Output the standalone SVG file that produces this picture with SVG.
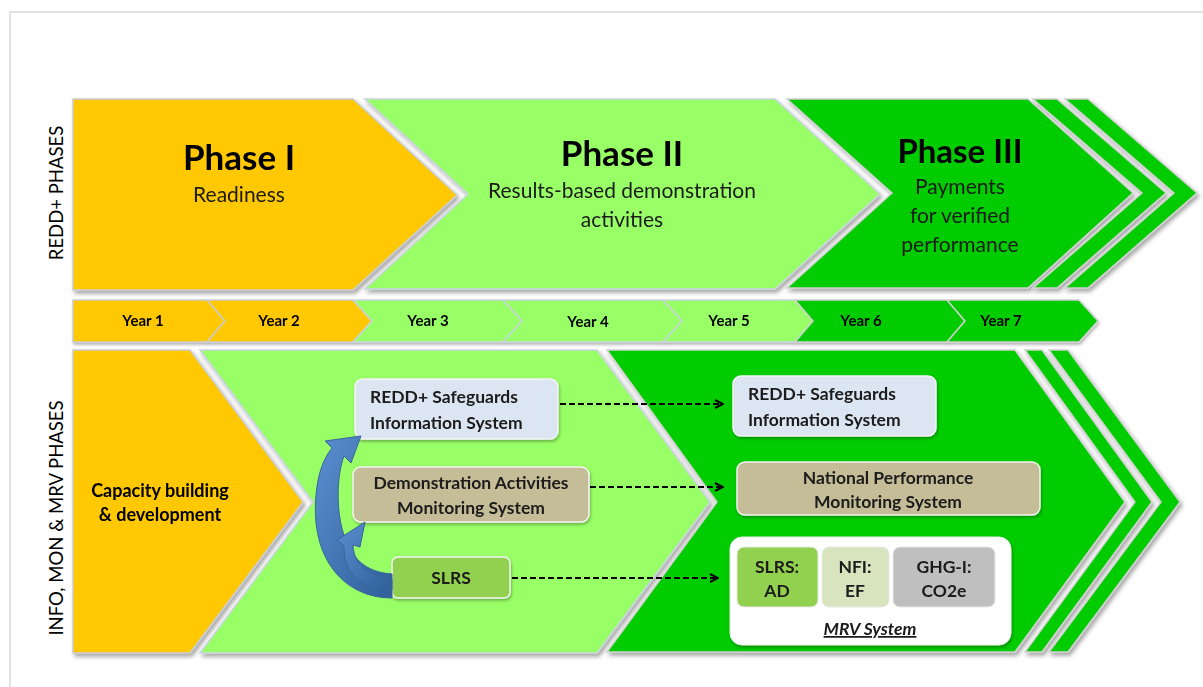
<svg xmlns="http://www.w3.org/2000/svg" width="1203" height="687" viewBox="0 0 1203 687">
<defs>
<filter id="sh" x="-10%" y="-10%" width="125%" height="130%">
<feDropShadow dx="2" dy="3" stdDeviation="2" flood-color="#000" flood-opacity="0.35"/>
</filter>
<filter id="sh2" x="-10%" y="-20%" width="125%" height="150%">
<feDropShadow dx="1" dy="2" stdDeviation="1.5" flood-color="#000" flood-opacity="0.3"/>
</filter>
<linearGradient id="blue" x1="0" y1="0" x2="1" y2="1">
<stop offset="0" stop-color="#5b8fd0"/>
<stop offset="1" stop-color="#2f5f9a"/>
</linearGradient>
<marker id="ah" viewBox="0 0 10 10" refX="9" refY="5" markerWidth="10" markerHeight="10" markerUnits="userSpaceOnUse" orient="auto">
<path d="M1,1 L9,5 L1,9" fill="none" stroke="#000" stroke-width="2"/>
</marker>
</defs>
<style>
.yel{fill:#FFC800;stroke:#c9ccd2;stroke-width:1.5}
.lg{fill:#99FF66;stroke:#c9d3e0;stroke-width:1.5}
.dg{fill:#00CC00;stroke:#d0d0d0;stroke-width:1.5}
.t{font-family:Lato,"Liberation Sans",sans-serif;fill:#000;text-anchor:middle}
.big{font-size:35px;font-weight:bold}
.sub{font-size:21px;fill:#1a1a1a}
.yr{font-size:15px;font-weight:bold}
.side{font-size:18.5px;font-family:Lato,"Liberation Sans",sans-serif;fill:#000;text-anchor:middle}
.bx{font-family:Lato,"Liberation Sans",sans-serif;font-size:17.5px;font-weight:bold;fill:#1a1a1a}
.box{stroke:#f4f4f4;stroke-width:1.5}
.dash{fill:none;stroke:#000;stroke-width:2;stroke-dasharray:6 3}
</style>
<rect width="1203" height="687" fill="#fff"/>
<path d="M10,687 L10,12 L1203,12" fill="none" stroke="#d9d9d9" stroke-width="1.5"/>

<text class="side" transform="translate(63,193) rotate(-90)">REDD+ PHASES</text>
<text class="side" transform="translate(63,518) rotate(-90)">INFO, MON &amp; MRV PHASES</text>

<g id="phase1" filter="url(#sh)">
<polygon class="yel" points="73,99 353,99 457,195 353,290 73,290"/>
<text class="t big" x="239" y="170">Phase I</text>
<text class="t sub" x="239" y="202">Readiness</text>
</g>
<g id="phase2" filter="url(#sh)">
<polygon class="lg" points="365,99 775,99 880,194 775,289 365,289 468,194"/>
<text class="t big" x="622" y="166">Phase II</text>
<text class="t sub" x="622" y="198">Results-based demonstration</text>
<text class="t sub" x="622" y="227">activities</text>
</g>
<g id="phase3" filter="url(#sh)">
<polygon class="dg" points="787,99 1028,99 1133,193 1028,288 787,288 892,193"/>
<polygon class="dg" points="1033,99 1057,99 1166,193 1057,288 1033,288 1142,193"/>
<polygon class="dg" points="1065,99 1088,99 1197,193 1088,288 1065,288 1174,193"/>
<text class="t big" x="960" y="163" style="font-size:33px">Phase III</text>
<text class="t sub" x="960" y="194">Payments</text>
<text class="t sub" x="960" y="223">for verified</text>
<text class="t sub" x="960" y="252">performance</text>
</g>

<g id="years" filter="url(#sh2)">
<g id="year1"><polygon class="yel" points="73,300 207,300 225,321 207,342 73,342"/><text class="t yr" x="143" y="326">Year 1</text></g>
<g id="year2"><polygon class="yel" points="207,300 353,300 372,321 353,342 207,342 225,321"/><text class="t yr" x="279" y="326">Year 2</text></g>
<g id="year3"><polygon class="lg" points="353,300 503,300 522,321 503,342 353,342 372,321"/><text class="t yr" x="428" y="326">Year 3</text></g>
<g id="year4"><polygon class="lg" points="503,300 663,300 682,321 663,342 503,342 522,321"/><text class="t yr" x="588" y="327">Year  4</text></g>
<g id="year5"><polygon class="lg" points="663,300 795,300 813,321 795,342 663,342 682,321"/><text class="t yr" x="729" y="326">Year  5</text></g>
<g id="year6"><polygon class="dg" points="795,300 947,300 965,321 947,342 795,342 813,321"/><text class="t yr" x="861" y="326">Year  6</text></g>
<g id="year7"><polygon class="dg" points="947,300 1079,300 1098,321 1079,342 947,342 965,321"/><text class="t yr" x="1001" y="326">Year  7</text></g>
</g>

<g id="capacity" filter="url(#sh)">
<polygon class="yel" points="73,350 190,350 303,502 190,653 73,653"/>
<text class="t" x="160" y="497" style="font-size:18px;font-weight:bold">Capacity building</text>
<text class="t" x="160" y="521" style="font-size:18px;font-weight:bold">&amp; development</text>
</g>
<g id="phase2-band" filter="url(#sh)">
<polygon class="lg" points="200,350 597,350 710,502 597,653 200,653 313,502"/>
</g>
<g id="phase3-band" filter="url(#sh)">
<polygon class="dg" points="607,350 1015,350 1125,502 1015,652 607,652 717,502"/>
<polygon class="dg" points="1025,350 1042,350 1152,502 1042,652 1025,652 1135,502"/>
<polygon class="dg" points="1049,350 1068,350 1180,502 1068,652 1049,652 1161,502"/>
</g>

<g id="safeguards-2" filter="url(#sh2)">
<rect class="box" x="355" y="379" width="203" height="60" rx="8" fill="#DCE6F2"/>
<text class="bx" x="370" y="403">REDD+ Safeguards</text>
<text class="bx" x="370" y="429">Information System</text>
</g>
<g id="demo" filter="url(#sh2)">
<rect class="box" x="353" y="467" width="236" height="55" rx="8" fill="#C4BD97"/>
<text class="bx" x="471" y="489" text-anchor="middle">Demonstration Activities</text>
<text class="bx" x="471" y="514" text-anchor="middle">Monitoring System</text>
</g>
<g id="slrs" filter="url(#sh2)">
<rect class="box" x="392" y="557" width="118" height="41" rx="6" fill="#92D050"/>
<text class="bx" x="451" y="584" text-anchor="middle">SLRS</text>
</g>

<g id="safeguards-3" filter="url(#sh2)">
<rect class="box" x="733" y="376" width="203" height="60" rx="8" fill="#DCE6F2"/>
<text class="bx" x="748" y="400">REDD+ Safeguards</text>
<text class="bx" x="748" y="426">Information System</text>
</g>
<g id="national" filter="url(#sh2)">
<rect class="box" x="737" y="462" width="303" height="53" rx="8" fill="#C4BD97"/>
<text class="bx" x="888" y="484" text-anchor="middle">National Performance</text>
<text class="bx" x="888" y="508" text-anchor="middle">Monitoring System</text>
</g>
<g id="mrv" filter="url(#sh2)">
<rect x="730" y="537" width="281" height="108" rx="12" fill="#fff" stroke="#e8e8e8" stroke-width="1"/>
<rect x="737" y="547" width="81" height="60" rx="7" fill="#92D050" stroke="#e8e8e8"/>
<rect x="822" y="547" width="67" height="60" rx="7" fill="#D7E4BD" stroke="#e8e8e8"/>
<rect x="893" y="547" width="102" height="60" rx="7" fill="#BFBFBF" stroke="#e8e8e8"/>
<text class="bx" x="777" y="573" text-anchor="middle">SLRS:</text>
<text class="bx" x="777" y="597" text-anchor="middle">AD</text>
<text class="bx" x="855" y="573" text-anchor="middle">NFI:</text>
<text class="bx" x="855" y="597" text-anchor="middle">EF</text>
<text class="bx" x="944" y="573" text-anchor="middle">GHG-I:</text>
<text class="bx" x="944" y="597" text-anchor="middle">CO2e</text>
<text class="bx" x="870" y="635" text-anchor="middle" font-style="italic" text-decoration="underline">MRV System</text>
</g>

<g id="connectors">
<path d="M392,598 C345,598 310,560 316,495 C318,472 324,458 332,448 L325,441 L361,436 L351,463 L344,456 C335,480 334,535 358,560 C368,570 380,573 392,574 Z" fill="url(#blue)" stroke="#3a6599" stroke-width="1"/>
<path d="M392,590 C362,589 343,575 344,546 L337,540 L365,522 L360,547 L353,545 C354,565 368,576 392,579 Z" fill="url(#blue)" stroke="#3a6599" stroke-width="1"/>
<line class="dash" x1="560" y1="404" x2="723" y2="404" marker-end="url(#ah)"/>
<line class="dash" x1="590" y1="487" x2="723" y2="487" marker-end="url(#ah)"/>
<line class="dash" x1="512" y1="578" x2="718" y2="578" marker-end="url(#ah)"/>
</g>
</svg>
